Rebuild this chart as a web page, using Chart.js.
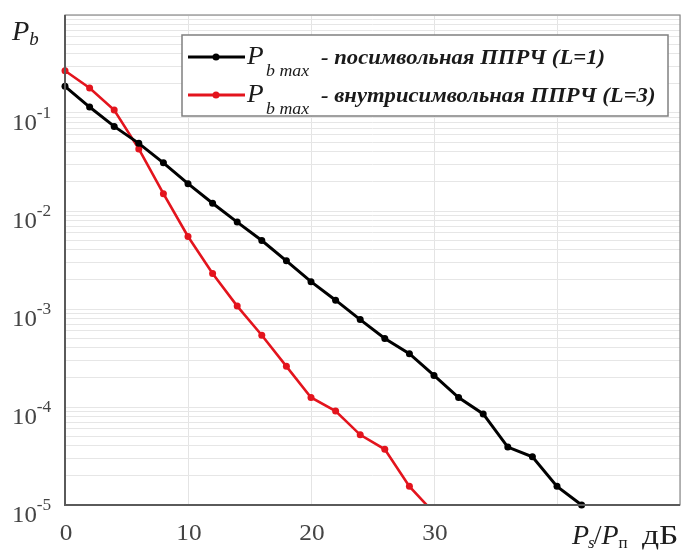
<!DOCTYPE html>
<html>
<head>
<meta charset="utf-8">
<script src="https://cdn.jsdelivr.net/npm/chart.js@4.4.0/dist/chart.umd.min.js"></script>
<style>
  html, body { margin: 0; padding: 0; background: #fff; }
  #wrap { width: 684px; height: 550px; }
</style>
</head>
<body>
<div id="wrap"><canvas id="berChart" width="684" height="550"></canvas></div>
<script>
// signal/jamming ratio, dB
const snrDb = [0, 2, 4, 6, 8, 10, 12, 14, 16, 18, 20, 22, 24, 26, 28, 30, 32, 34, 36, 38, 40, 42];
// Pb max, symbol-rate hopping (L=1)
const pbSymbol = [0.187, 0.115, 0.073, 0.049, 0.031, 0.019, 0.012, 0.0077, 0.0050, 0.0031, 0.0019,
  0.00123, 0.00078, 0.00050, 0.00035, 0.00021, 0.000125, 0.000085, 0.000039, 0.000031, 0.0000155, 0.00001];
// Pb max, intra-symbol hopping (L=3)
const snrDbIntra = [0, 2, 4, 6, 8, 10, 12, 14, 16, 18, 20, 22, 24, 26, 28, 30];
const pbIntra = [0.27, 0.18, 0.107, 0.043, 0.015, 0.0055, 0.0023, 0.00107, 0.00054, 0.00026,
  0.000125, 0.000091, 0.000052, 0.000037, 0.0000155, 0.0000083];

const seriesNames = ['посимвольная ППРЧ (L=1)', 'внутрисимвольная ППРЧ (L=3)'];
const xTickLabels = ['0', '10', '20', '30'];
const yDecades = [-5, -4, -3, -2, -1];

const SERIF = '"Liberation Serif", "DejaVu Serif", serif';
const RED = '#e3141d';

// every minor/major value on the log axis (1..9 x 10^n)
function logTicks(minExp, maxExp) {
  const out = [];
  for (let e = minExp; e < maxExp; e++) {
    for (let m = 1; m < 10; m++) out.push({ value: m * Math.pow(10, e) });
  }
  out.push({ value: Math.pow(10, maxExp) });
  return out;
}

// draw a sequence of text pieces [text, font, dy, gapAfter]
function richText(ctx, x, y, parts, sx) {
  ctx.save();
  ctx.translate(x, y);
  ctx.scale(sx || 1, 1);
  let cx = 0;
  parts.forEach(p => {
    ctx.font = p[1];
    ctx.fillText(p[0], cx, p[2] || 0);
    cx += ctx.measureText(p[0]).width + (p[3] || 0);
  });
  ctx.restore();
}

const decorations = {
  id: 'decorations',
  afterDraw(chart) {
    const ctx = chart.ctx;
    const area = chart.chartArea;
    const xs = chart.scales.x, ys = chart.scales.y;

    // frame
    ctx.save();
    ctx.strokeStyle = '#8a8a8a';
    ctx.lineWidth = 1.2;
    ctx.strokeRect(area.left, area.top, area.right - area.left, area.bottom - area.top);
    ctx.strokeStyle = '#5a5a5a';
    ctx.lineWidth = 2;
    ctx.beginPath();
    ctx.moveTo(area.left, area.top);
    ctx.lineTo(area.left, area.bottom);
    ctx.lineTo(area.right, area.bottom);
    ctx.stroke();
    ctx.restore();

    ctx.save();
    ctx.fillStyle = '#444';
    ctx.textBaseline = 'alphabetic';

    // y tick labels 10^n
    yDecades.forEach(e => {
      const py = ys.getPixelForValue(Math.pow(10, e));
      richText(ctx, 12, py + 17, [
        ['10', '23px ' + SERIF, 0, 0],
        [String(e), '16px ' + SERIF, -12]
      ], 1.08);
    });

    // x tick labels
    ctx.textAlign = 'center';
    ctx.font = '23px ' + SERIF;
    xTickLabels.forEach(t => {
      const px = xs.getPixelForValue(Number(t));
      ctx.save();
      ctx.translate(px + 1, area.bottom + 35);
      ctx.scale(1.1, 1);
      ctx.fillText(t, 0, 0);
      ctx.restore();
    });
    ctx.textAlign = 'left';

    // axis names
    ctx.fillStyle = '#1e1e1e';
    richText(ctx, 12, 40, [
      ['P', 'italic 27px ' + SERIF],
      ['b', 'italic 18px ' + SERIF, 5]
    ], 1.05);
    richText(ctx, 572, 544, [
      ['P', 'italic 28px ' + SERIF, 0, -1],
      ['s', 'italic 17px ' + SERIF, 4, -1],
      ['/', '28px ' + SERIF, 0, 0],
      ['P', 'italic 28px ' + SERIF, 0, 0],
      ['п', '17px ' + SERIF, 4, 6]
    ], 1.0);
    richText(ctx, 642, 544, [['дБ', '28px ' + SERIF, 0]], 1.2);
    ctx.restore();

    // legend
    const box = { l: 182, t: 35, r: 668, b: 116 };
    ctx.save();
    ctx.fillStyle = '#fff';
    ctx.fillRect(box.l, box.t, box.r - box.l, box.b - box.t);
    ctx.strokeStyle = '#808080';
    ctx.lineWidth = 1.5;
    ctx.strokeRect(box.l, box.t, box.r - box.l, box.b - box.t);
    const rows = [57, 95];
    chart.data.datasets.forEach((ds, i) => {
      const ry = rows[i];
      ctx.strokeStyle = ds.borderColor;
      ctx.lineWidth = 3;
      ctx.beginPath();
      ctx.moveTo(188, ry);
      ctx.lineTo(245, ry);
      ctx.stroke();
      ctx.fillStyle = ds.borderColor;
      ctx.beginPath();
      ctx.arc(216, ry, 3.5, 0, Math.PI * 2);
      ctx.fill();
      ctx.fillStyle = '#1a1a1a';
      richText(ctx, 247, ry + 7, [
        ['P', 'italic 26px ' + SERIF, 0, 0]
      ], 1.05);
      richText(ctx, 266, ry + 19, [
        ['b max', 'italic 17px ' + SERIF, 0, 0]
      ], 1.05);
      richText(ctx, 321, ry + 7, [
        ['- ' + ds.label, 'italic bold 22px ' + SERIF, 0, 0]
      ], 1.03);
    });
    ctx.restore();
  }
};

const ctx = document.getElementById('berChart').getContext('2d');
new Chart(ctx, {
  type: 'line',
  data: {
    datasets: [
      {
        label: seriesNames[0],
        data: snrDb.map((x, i) => ({ x: x, y: pbSymbol[i] })),
        borderColor: '#000',
        backgroundColor: '#000',
        borderWidth: 3,
        pointRadius: 3.5,
        pointBorderWidth: 0,
        clip: { left: 8, top: 8, right: 8, bottom: 6 }
      },
      {
        label: seriesNames[1],
        data: snrDbIntra.map((x, i) => ({ x: x, y: pbIntra[i] })),
        borderColor: RED,
        backgroundColor: RED,
        borderWidth: 2.6,
        pointRadius: 3.5,
        pointBorderWidth: 0,
        clip: { left: 8, top: 8, right: 8, bottom: 0 }
      }
    ]
  },
  options: {
    responsive: false,
    animation: false,
    layout: { padding: { left: 65, right: 3, top: 15, bottom: 45 } },
    plugins: { legend: { display: false }, tooltip: { enabled: false } },
    scales: {
      x: {
        type: 'linear',
        min: 0,
        max: 50,
        ticks: { display: false, stepSize: 10 },
        grid: { color: '#e4e4e4', lineWidth: 1, drawTicks: false },
        border: { display: false }
      },
      y: {
        type: 'logarithmic',
        min: 1e-5,
        max: 1,
        afterBuildTicks: scale => { scale.ticks = logTicks(-5, 0); },
        ticks: { display: false, autoSkip: false },
        grid: { color: '#e6e6e6', lineWidth: 1, drawTicks: false },
        border: { display: false }
      }
    }
  },
  plugins: [decorations]
});
</script>
</body>
</html>
